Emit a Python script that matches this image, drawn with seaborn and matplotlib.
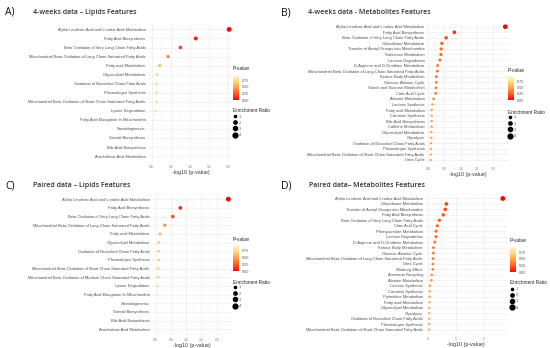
import matplotlib
matplotlib.use("Agg")
import matplotlib.pyplot as plt
import numpy as np
import pandas as pd
import seaborn as sns
from matplotlib.colors import LinearSegmentedColormap, Normalize
from matplotlib.cm import ScalarMappable
from matplotlib.lines import Line2D

# ---- data -------------------------------------------------------------
a_pathways = [
    "Alpha Linolenic Acid and Linoleic Acid Metabolism",
    "Fatty Acid Biosynthesis",
    "Beta Oxidation of Very Long Chain Fatty Acids",
    "Mitochondrial Beta-Oxidation of Long Chain Saturated Fatty Acids",
    "Fatty acid Metabolism",
    "Glycerolipid Metabolism",
    "Oxidation of Branched Chain Fatty Acids",
    "Plasmalogen Synthesis",
    "Mitochondrial Beta-Oxidation of Short Chain Saturated Fatty Acids",
    "Lysine Degradation",
    "Fatty Acid Elongation In Mitochondria",
    "Steroidogenesis",
    "Steroid Biosynthesis",
    "Bile Acid Biosynthesis",
    "Arachidonic Acid Metabolism",
]
a_logp = [2.02, 1.15, 0.75, 0.43, 0.21, 0.14, 0.13, 0.13, 0.13, 0.10, 0.06, 0.03, 0.02, 0.01, 0.005]
a_pval = [0.01, 0.07, 0.18, 0.37, 0.55, 0.70, 0.72, 0.72, 0.72, 0.77, 0.85, 0.92, 0.94, 0.96, 0.97]
a_ratio = [4.0, 2.8, 2.5, 2.0, 1.6, 1.4, 1.4, 1.4, 1.4, 1.3, 1.2, 1.0, 1.0, 1.0, 1.0]
a_ticks = [0.0, 0.5, 1.0, 1.5, 2.0]

b_pathways = [
    "Alpha Linolenic Acid and Linoleic Acid Metabolism",
    "Fatty Acid Biosynthesis",
    "Beta Oxidation of Very Long Chain Fatty Acids",
    "Glutathione Metabolism",
    "Transfer of Acetyl Groups into Mitochondria",
    "Galactose Metabolism",
    "Lactose Degradation",
    "D-Arginine and D-Ornithine Metabolism",
    "Mitochondrial Beta-Oxidation of Long Chain Saturated Fatty Acids",
    "Ketone Body Metabolism",
    "Glucose-Alanine Cycle",
    "Starch and Sucrose Metabolism",
    "Citric Acid Cycle",
    "Alanine Metabolism",
    "Lactose Synthesis",
    "Fatty acid Metabolism",
    "Carnitine Synthesis",
    "Bile Acid Biosynthesis",
    "Caffeine Metabolism",
    "Glycerolipid Metabolism",
    "Glycolysis",
    "Oxidation of Branched Chain Fatty Acids",
    "Plasmalogen Synthesis",
    "Mitochondrial Beta-Oxidation of Short Chain Saturated Fatty Acids",
    "Urea Cycle",
]
b_logp = [2.36, 0.81, 0.56, 0.43, 0.41, 0.40, 0.37, 0.30, 0.29, 0.26, 0.26, 0.25, 0.24,
          0.18, 0.14, 0.12, 0.12, 0.12, 0.12, 0.11, 0.11, 0.10, 0.10, 0.10, 0.09]
b_pval = [0.00, 0.12, 0.20, 0.27, 0.28, 0.28, 0.30, 0.32, 0.32, 0.34, 0.34, 0.34, 0.35,
          0.40, 0.44, 0.45, 0.45, 0.45, 0.45, 0.46, 0.46, 0.47, 0.47, 0.47, 0.48]
b_ratio = [3.8, 2.4, 2.2, 2.0, 1.9, 1.9, 1.8, 1.6, 1.6, 1.6, 1.5, 1.5, 1.5,
           1.4, 1.2, 1.1, 1.1, 1.1, 1.1, 1.1, 1.1, 1.0, 1.0, 1.0, 1.0]
b_ticks = [0.0, 0.5, 1.0, 1.5, 2.0]

c_pathways = [
    "Alpha Linolenic Acid and Linoleic Acid Metabolism",
    "Fatty Acid Biosynthesis",
    "Beta Oxidation of Very Long Chain Fatty Acids",
    "Mitochondrial Beta-Oxidation of Long Chain Saturated Fatty Acids",
    "Fatty acid Metabolism",
    "Glycerolipid Metabolism",
    "Oxidation of Branched Chain Fatty Acids",
    "Plasmalogen Synthesis",
    "Mitochondrial Beta-Oxidation of Short Chain Saturated Fatty Acids",
    "Mitochondrial Beta-Oxidation of Medium Chain Saturated Fatty Acids",
    "Lysine Degradation",
    "Fatty Acid Elongation In Mitochondria",
    "Steroidogenesis",
    "Steroid Biosynthesis",
    "Bile Acid Biosynthesis",
    "Arachidonic Acid Metabolism",
]
c_logp = [2.38, 0.81, 0.56, 0.30, 0.14, 0.11, 0.10, 0.10, 0.085, 0.085, 0.065, 0.04, 0.02, 0.01, 0.005, 0.0]
c_pval = [0.00, 0.12, 0.20, 0.40, 0.55, 0.62, 0.64, 0.64, 0.66, 0.66, 0.72, 0.82, 0.90, 0.94, 0.97, 0.98]
c_ratio = [4.0, 2.6, 2.4, 1.9, 1.5, 1.4, 1.3, 1.3, 1.3, 1.3, 1.2, 1.1, 1.0, 1.0, 1.0, 1.0]
c_ticks = [0.0, 0.5, 1.0, 1.5, 2.0]

d_pathways = [
    "Alpha Linolenic Acid and Linoleic Acid Metabolism",
    "Glutathione Metabolism",
    "Transfer of Acetyl Groups into Mitochondria",
    "Fatty Acid Biosynthesis",
    "Beta Oxidation of Very Long Chain Fatty Acids",
    "Citric Acid Cycle",
    "Phenylacetate Metabolism",
    "Lactose Degradation",
    "D-Arginine and D-Ornithine Metabolism",
    "Ketone Body Metabolism",
    "Glucose-Alanine Cycle",
    "Mitochondrial Beta-Oxidation of Long Chain Saturated Fatty Acids",
    "Urea Cycle",
    "Warburg Effect",
    "Ammonia Recycling",
    "Alanine Metabolism",
    "Lactose Synthesis",
    "Carnitine Synthesis",
    "Pyrimidine Metabolism",
    "Fatty acid Metabolism",
    "Glycerolipid Metabolism",
    "Glycolysis",
    "Oxidation of Branched Chain Fatty Acids",
    "Plasmalogen Synthesis",
    "Mitochondrial Beta-Oxidation of Short Chain Saturated Fatty Acids",
]
d_logp = [2.66, 0.66, 0.62, 0.55, 0.41, 0.34, 0.29, 0.29, 0.25, 0.20, 0.20, 0.19, 0.18,
          0.18, 0.14, 0.13, 0.08, 0.07, 0.07, 0.06, 0.06, 0.06, 0.05, 0.05, 0.05]
d_pval = [0.00, 0.18, 0.19, 0.21, 0.25, 0.28, 0.30, 0.30, 0.32, 0.35, 0.35, 0.36, 0.37,
          0.37, 0.40, 0.41, 0.46, 0.47, 0.47, 0.48, 0.48, 0.48, 0.49, 0.49, 0.49]
d_ratio = [4.0, 2.5, 2.4, 2.2, 2.0, 1.8, 1.7, 1.7, 1.6, 1.5, 1.5, 1.5, 1.4,
           1.4, 1.3, 1.3, 1.1, 1.1, 1.1, 1.0, 1.0, 1.0, 1.0, 1.0, 1.0]
d_ticks = [0, 1, 2]

# ---- style ------------------------------------------------------------
W, H = 550, 348
sns.set_style("white")
NARROW = ["Liberation Sans", "DejaVu Sans"]
TITLE_FONT = ["Open Sans", "DejaVu Sans"]
cmap = LinearSegmentedColormap.from_list(
    "pval", ["#FF0000", "#FF5A1E", "#FFA040", "#FFD88A", "#FFF8DC"])
p_norm = Normalize(0, 0.95)
size_range = (2.5, 12)
size_norm = (1, 4)


def px_rect(left, top, right, bottom):
    return [left / W, 1 - bottom / H, (right - left) / W, (bottom - top) / H]


def draw_panel(fig, rect, label, label_xy, title, title_xy,
               pathways, logp, pval, ratio, ticks, legend_px):
    df = pd.DataFrame({"pathway": pathways, "logp": logp,
                       "pval": pval, "ratio": ratio})
    ax = fig.add_axes(px_rect(*rect))
    sns.scatterplot(data=df, x="logp", y="pathway", hue="pval", size="ratio",
                    palette=cmap, hue_norm=p_norm, sizes=size_range,
                    size_norm=size_norm, linewidth=0, legend=False, ax=ax,
                    zorder=3)
    n = len(pathways)
    ax.set_ylim(n - 1 + 0.6, -0.6)
    lo, hi = min(logp), max(logp)
    pad = 0.05 * (hi - lo)
    ax.set_xlim(lo - pad, hi + pad)
    ax.set_xticks(ticks)
    ax.set_xticklabels([f"{t:g}" if isinstance(t, int) else f"{t:.1f}" for t in ticks])
    minors = [(ticks[i] + ticks[i + 1]) / 2 for i in range(len(ticks) - 1)]
    ax.set_xticks(minors, minor=True)
    ax.grid(True, which="major", color="#EBEBEB", linewidth=0.45, zorder=0)
    ax.grid(True, which="minor", axis="x", color="#F3F3F3", linewidth=0.3, zorder=0)
    for s in ax.spines.values():
        s.set_visible(False)
    ax.tick_params(axis="y", which="major", length=1.2, width=0.3, color="#888888",
                   pad=0.6, labelsize=2.85, labelcolor="#4D4D4D")
    ax.tick_params(axis="x", which="major", length=1.2, width=0.3, color="#888888",
                   pad=1.5, labelsize=2.4, labelcolor="#7A7A7A")
    ax.tick_params(axis="x", which="minor", length=0)
    for t in ax.get_yticklabels() + ax.get_xticklabels():
        t.set_family(NARROW)
    ax.set_ylabel("")
    ax.set_xlabel("-log10 (p-value)", fontsize=3.8, color="#333333",
                  family=NARROW, labelpad=0.8)

    fig.text(label_xy[0] / W, 1 - label_xy[1] / H, label, fontsize=7.5,
             family=TITLE_FONT, color="#111111", va="center", ha="left")
    fig.text(title_xy[0] / W, 1 - title_xy[1] / H, title, fontsize=5.0,
             family=TITLE_FONT, color="#333333", va="center", ha="left",
             fontweight="semibold")

    # p-value colour bar
    lx, py, cb_top, cb_bot, ey, dot_y0 = legend_px
    fig.text(lx / W, 1 - py / H, "P-value", fontsize=3.6, family=NARROW,
             color="#222222", va="center", ha="left")
    cax = fig.add_axes(px_rect(lx, cb_top, lx + 6, cb_bot))
    cb = fig.colorbar(ScalarMappable(norm=p_norm, cmap=cmap), cax=cax)
    cb.outline.set_visible(False)
    cb.set_ticks([0.0, 0.25, 0.5, 0.75])
    cb.set_ticklabels(["0.00", "0.25", "0.50", "0.75"])
    cax.tick_params(length=0.8, width=0.3, color="white", pad=1.5,
                    labelsize=2.7, labelcolor="#555555")
    for t in cax.get_yticklabels():
        t.set_family(NARROW)

    # enrichment ratio size legend
    fig.text(lx / W, 1 - ey / H, "Enrichment Ratio", fontsize=3.4, family=NARROW,
             color="#222222", va="center", ha="left")
    handles = []
    for r in [1, 2, 3, 4]:
        s = size_range[0] + (r - size_norm[0]) / (size_norm[1] - size_norm[0]) * (
            size_range[1] - size_range[0])
        handles.append(Line2D([], [], marker="o", linestyle="", color="black",
                              markersize=np.sqrt(s), label=str(r)))
    leg = fig.legend(handles=handles, loc="upper left", frameon=False,
                     bbox_to_anchor=((lx + 0.5) / W, 1 - (dot_y0 - 3.5) / H),
                     fontsize=2.8, handlelength=0.8, handletextpad=0.6,
                     labelspacing=0.55, borderpad=0, borderaxespad=0)
    for t in leg.get_texts():
        t.set_color("#555555")
        t.set_family(NARROW)
    return ax


fig = plt.figure(figsize=(W / 100, H / 100), dpi=100)

draw_panel(fig, (148, 24, 233, 161.5), "A)", (5, 12),
           "4-weeks data \u2013 Lipids Features", (33, 12),
           a_pathways, a_logp, a_pval, a_ratio, a_ticks,
           (233, 69, 75, 100, 111, 118))
draw_panel(fig, (427, 23.4, 509, 163.3), "B)", (281, 13),
           "4-weeks data - Metabolites Features", (308, 13),
           b_pathways, b_logp, b_pval, b_ratio, b_ticks,
           (508, 70, 76, 100, 112, 119))
draw_panel(fig, (152, 194, 232, 334.5), "C)", (5, 186),
           "Paired data \u2013 Lipids Features", (33, 185),
           c_pathways, c_logp, c_pval, c_ratio, c_ticks,
           (233, 239.7, 244.7, 271.3, 282, 289))
draw_panel(fig, (425.5, 195.2, 506.5, 332.8), "D)", (281, 186),
           "Paired data\u2013 Metabolites Features", (309, 185),
           d_pathways, d_logp, d_pval, d_ratio, d_ticks,
           (510, 241, 246.7, 272.3, 282, 290.7))

fig.savefig("out.png", dpi=100)
plt.close(fig)
